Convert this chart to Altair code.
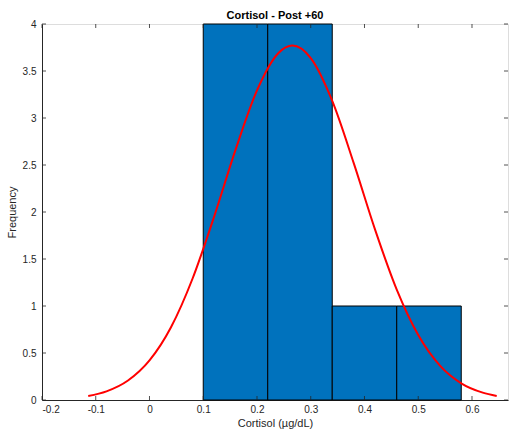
import altair as alt
import pandas as pd

# Histogram bins (edges) and counts
bin_start = [0.10, 0.22, 0.34, 0.46]
bin_end = [0.22, 0.34, 0.46, 0.58]
counts = [4, 4, 1, 1]

# Fitted normal curve
curve_x = [-0.114, -0.08, -0.04, 0.0, 0.04, 0.08, 0.12, 0.16, 0.20, 0.24, 0.266,
           0.30, 0.34, 0.38, 0.42, 0.46, 0.50, 0.54, 0.58, 0.62, 0.646]
curve_y = [0.043, 0.092, 0.207, 0.421, 0.774, 1.29, 1.947, 2.661, 3.294, 3.692, 3.77,
           3.637, 3.182, 2.52, 1.807, 1.174, 0.691, 0.368, 0.177, 0.078, 0.043]

x_ticks = [-0.2, -0.1, 0.0, 0.1, 0.2, 0.3, 0.4, 0.5, 0.6]
y_ticks = [0, 0.5, 1, 1.5, 2, 2.5, 3, 3.5, 4]

W, H = 466, 376
FONT = "Liberation Sans"
AX = "#262626"

bars_df = pd.DataFrame({"x0": bin_start, "x1": bin_end, "n": counts})
curve_df = pd.DataFrame({"x": curve_x, "y": curve_y})
xt_df = pd.DataFrame({"t": x_ticks})
yt_df = pd.DataFrame({"t": y_ticks})

xs = alt.Scale(domain=[-0.2, 0.667], nice=False, zero=False)
ys = alt.Scale(domain=[0, 4], nice=False)

lab_expr = "replace(datum.label, '\u2212', '-')"

bars = alt.Chart(bars_df).mark_rect(color="#0072BD", stroke="#000000", strokeWidth=1).encode(
    x=alt.X("x0:Q", scale=xs,
            axis=alt.Axis(values=x_ticks, format="~g", labelExpr=lab_expr, title="Cortisol (µg/dL)",
                          grid=False, ticks=False, domainColor=AX, labelColor=AX,
                          labelFont=FONT, labelFontSize=10, titleFont=FONT, titleFontSize=11,
                          titleFontWeight="normal", titleColor=AX, labelPadding=4, titlePadding=3)),
    x2="x1:Q",
    y=alt.Y("n:Q", scale=ys,
            axis=alt.Axis(values=y_ticks, format="~g", title="Frequency", grid=False, ticks=False,
                          domainColor=AX, labelColor=AX, labelFont=FONT, labelFontSize=10,
                          titleFont=FONT, titleFontSize=11, titleFontWeight="normal",
                          titleColor=AX, labelPadding=6, titlePadding=5)),
    y2=alt.datum(0),
)

curve = alt.Chart(curve_df).mark_line(color="#FF0000", strokeWidth=2, interpolate="monotone").encode(
    x=alt.X("x:Q", scale=xs), y=alt.Y("y:Q", scale=ys)
)

tk = dict(color=AX, strokeWidth=0.8)
xb = alt.Chart(xt_df).mark_rule(**tk).encode(x=alt.X("t:Q", scale=xs), y=alt.value(H), y2=alt.value(H - 4))
xtop = alt.Chart(xt_df).mark_rule(**tk).encode(x=alt.X("t:Q", scale=xs), y=alt.value(0), y2=alt.value(4))
yl = alt.Chart(yt_df).mark_rule(**tk).encode(y=alt.Y("t:Q", scale=ys), x=alt.value(0), x2=alt.value(4))
yr = alt.Chart(yt_df).mark_rule(**tk).encode(y=alt.Y("t:Q", scale=ys), x=alt.value(W), x2=alt.value(W - 4))

chart = alt.layer(bars, curve, xb, xtop, yl, yr).properties(
    width=W, height=H,
    title=alt.Title("Cortisol - Post +60", font=FONT, fontSize=11, fontWeight="bold",
                    color="#000000", offset=2, dy=4),
    autosize=alt.AutoSizeParams(type="none"),
    padding={"left": 42, "top": 24, "right": 1, "bottom": 34},
).configure_view(stroke=AX, strokeWidth=1).configure(background="white")

chart.save("out.html", embed_options={"renderer": "svg", "actions": False})
